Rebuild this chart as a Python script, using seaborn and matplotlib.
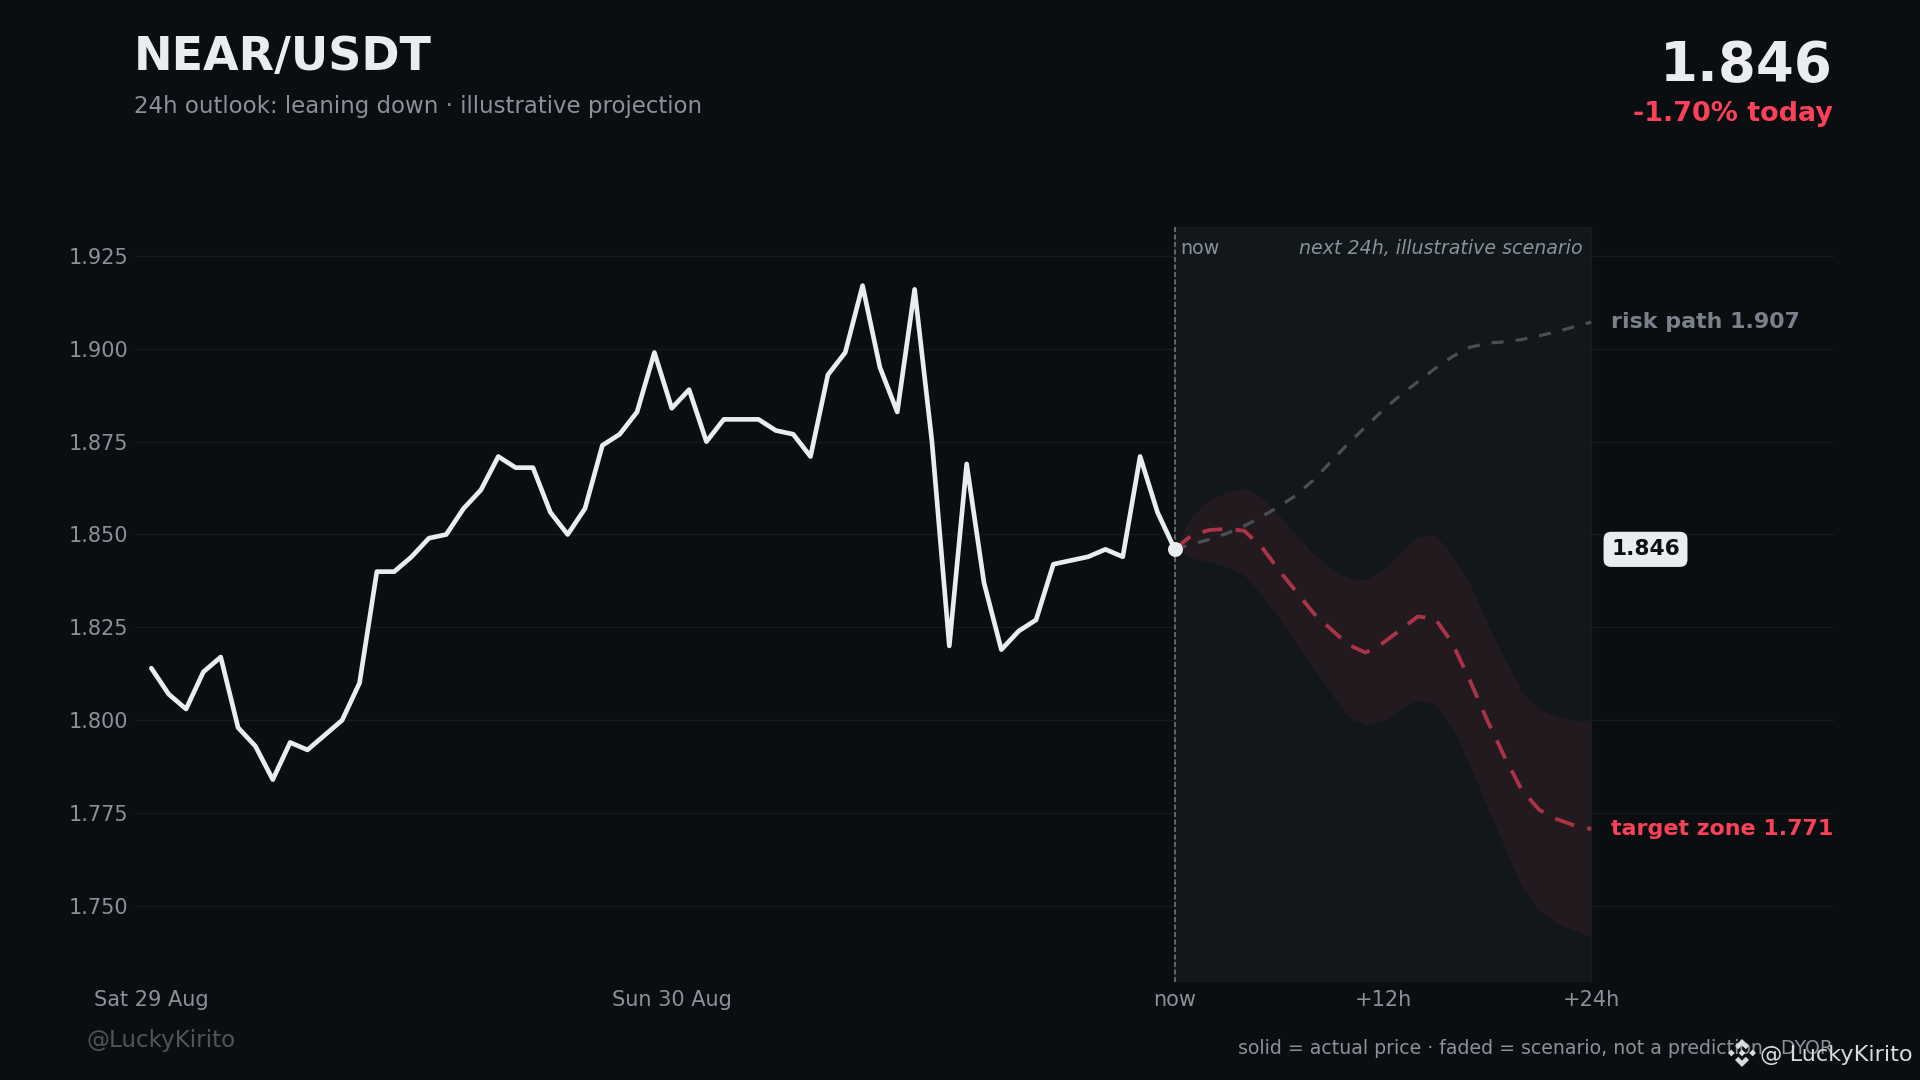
import numpy as np
import pandas as pd
import matplotlib
matplotlib.use("Agg")
import matplotlib.pyplot as plt
import seaborn as sns
from matplotlib.patches import Polygon

# hourly closes, oldest first, last one is "now"
history_prices = [
    1.814, 1.807, 1.803, 1.813, 1.817, 1.798, 1.793, 1.784, 1.794, 1.792,
    1.796, 1.800, 1.810, 1.840, 1.840, 1.844, 1.849, 1.850, 1.857, 1.862,
    1.871, 1.868, 1.868, 1.856, 1.850, 1.857, 1.874, 1.877, 1.883, 1.899,
    1.884, 1.889, 1.875, 1.881, 1.881, 1.881, 1.878, 1.877, 1.871, 1.893,
    1.899, 1.917, 1.895, 1.883, 1.916, 1.875, 1.820, 1.869, 1.837, 1.819,
    1.824, 1.827, 1.842, 1.843, 1.844, 1.846, 1.844, 1.871, 1.856, 1.846,
]

# scenario paths, +0h to +24h
target_path = [
    1.846, 1.8499, 1.8512, 1.8515, 1.8510, 1.8467, 1.8404, 1.8346, 1.8288,
    1.8245, 1.8203, 1.8182, 1.8208, 1.8243, 1.8279, 1.8274, 1.8207, 1.8108,
    1.8001, 1.7902, 1.7812, 1.7759, 1.7734, 1.7717, 1.7707,
]
band_upper = [
    1.846, 1.8552, 1.8593, 1.8615, 1.8624, 1.8602, 1.8552, 1.8499, 1.8449,
    1.8409, 1.8382, 1.8378, 1.8406, 1.8454, 1.8494, 1.8499, 1.8445, 1.8369,
    1.8262, 1.8168, 1.8077, 1.8030, 1.8010, 1.7999, 1.7994,
]
band_lower = [
    1.846, 1.8436, 1.8427, 1.8413, 1.8391, 1.8337, 1.8275, 1.8208, 1.8141,
    1.8073, 1.8010, 1.7987, 1.7999, 1.8028, 1.8055, 1.8042, 1.7980, 1.7880,
    1.7767, 1.7660, 1.7552, 1.7489, 1.7453, 1.7435, 1.7417,
]
risk_path = [
    1.846, 1.8474, 1.8487, 1.8503, 1.8523, 1.8548, 1.8575, 1.8606, 1.8647,
    1.8696, 1.8745, 1.8790, 1.8835, 1.8875, 1.8911, 1.8947, 1.8979, 1.9004,
    1.9015, 1.9019, 1.9025, 1.9035, 1.9046, 1.9059, 1.9072,
]

y_ticks = [1.750, 1.775, 1.800, 1.825, 1.850, 1.875, 1.900, 1.925]
x_tick_hours = [-59, -29, 0, 12, 24]
x_tick_labels = ["Sat 29 Aug", "Sun 30 Aug", "now", "+12h", "+24h"]

BG = "#0b0e11"
SHADE = "#12171a"
BAND = "#231a1f"
GRID = "#151a20"
MUTED = "#8a919c"
RED = "#fb4158"
WHITE = "#eaecef"

sns.set_theme(style="dark", rc={
    "figure.facecolor": BG,
    "axes.facecolor": BG,
    "savefig.facecolor": BG,
    "axes.edgecolor": BG,
    "text.color": WHITE,
})
plt.rcParams["font.family"] = ["DejaVu Sans"]

history = pd.DataFrame({"hour": np.arange(-59, 1), "price": history_prices})
future = pd.DataFrame({
    "hour": np.arange(0, 25),
    "target": target_path,
    "upper": band_upper,
    "lower": band_lower,
    "risk": risk_path,
})

fig = plt.figure(figsize=(16, 9), dpi=120)
ax = fig.add_axes([134 / 1920, 1 - 982 / 1080, 1700 / 1920, 755 / 1080])

# forecast area and grid
ax.axvspan(0, 24, facecolor=SHADE, edgecolor="#191d22", linewidth=0.8, zorder=0)
for tick in y_ticks:
    ax.axhline(tick, color=GRID, linewidth=0.8, zorder=1)

ax.fill_between(future["hour"], future["lower"], future["upper"],
                color=BAND, linewidth=0, zorder=2)
sns.lineplot(data=future, x="hour", y="risk", ax=ax, color="#4a4f55",
             linewidth=1.9, linestyle=(0, (3.8, 3.8)), zorder=3)
sns.lineplot(data=future, x="hour", y="target", ax=ax, color="#ab3348",
             linewidth=2.3, linestyle=(0, (5.22, 3.49)), zorder=4)
sns.lineplot(data=history, x="hour", y="price", ax=ax, color=WHITE,
             linewidth=2.8, zorder=5)
ax.axvline(0, color="#6f747b", linewidth=1, linestyle=(0, (3, 1.5)), zorder=4)
ax.scatter([0], history_prices[-1:], s=80, color=WHITE, linewidth=0, zorder=6)

ax.set_xlim(-60, 38)
ax.set_ylim(1.7295, 1.9328)
ax.set_xlabel("")
ax.set_ylabel("")
ax.set_xticks(x_tick_hours)
ax.set_xticklabels(x_tick_labels)
ax.set_yticks(y_ticks)
ax.set_yticklabels([f"{t:.3f}" for t in y_ticks])
ax.tick_params(axis="both", length=0, labelsize=12.5, labelcolor=MUTED)
ax.tick_params(axis="x", pad=5)
ax.tick_params(axis="y", pad=3.6)
for spine in ax.spines.values():
    spine.set_visible(False)

# labels inside and beside the forecast area
ax.annotate("now", (0, 1.9328), xytext=(3, -7.5), textcoords="offset points",
            fontsize=11.4, color=MUTED, va="top")
ax.annotate("next 24h, illustrative scenario", (24, 1.9328), xytext=(-5, -7.5),
            textcoords="offset points", fontsize=11.4, color=MUTED,
            style="italic", ha="right", va="top")
ax.annotate("risk path 1.907", (24, risk_path[-1]), xytext=(12, 0),
            textcoords="offset points", fontsize=13.3, fontweight="bold",
            color="#7a818b", va="center")
ax.annotate("target zone 1.771", (24, target_path[-1]), xytext=(12, 0),
            textcoords="offset points", fontsize=13.3, fontweight="bold",
            color=RED, va="center")
ax.annotate("1.846", (24, history_prices[-1]), xytext=(12, 0),
            textcoords="offset points", fontsize=13, fontweight="bold",
            color="#0b0e11", va="center",
            bbox=dict(boxstyle="round,pad=0.35", facecolor=WHITE, edgecolor="none"))

# header
fig.text(134 / 1920, 1 - 57.5 / 1080, "NEAR/USDT", fontsize=27.6, fontweight="bold",
         color=WHITE, va="center")
fig.text(134 / 1920, 1 - 107 / 1080, "24h outlook: leaning down · illustrative projection",
         fontsize=13.7, color=MUTED, va="center")
fig.text(1833 / 1920, 1 - 66.5 / 1080, "1.846", fontsize=32.8, fontweight="bold",
         color=WHITE, ha="right", va="center")
fig.text(1833 / 1920, 1 - 114 / 1080, "-1.70% today", fontsize=16.2, fontweight="bold",
         color=RED, ha="right", va="center")

# footer
fig.text(86 / 1920, 1 - 1040 / 1080, "@LuckyKirito", fontsize=13.8, color="#4e545b", va="center")
fig.text(1833 / 1920, 1 - 1048.5 / 1080,
         "solid = actual price · faded = scenario, not a prediction · DYOR",
         fontsize=11.35, color=MUTED, ha="right", va="center")

# watermark on top, logo built from small diamonds
logo_color = "#d8dadd"
cx, cy = 1742, 1053
size = 14
shapes = [
    [(0, -1), (0.5, -0.5), (0.27, -0.27), (0, -0.54), (-0.27, -0.27), (-0.5, -0.5)],
    [(0, 1), (0.5, 0.5), (0.27, 0.27), (0, 0.54), (-0.27, 0.27), (-0.5, 0.5)],
    [(0, -0.24), (0.24, 0), (0, 0.24), (-0.24, 0)],
    [(-0.76, -0.24), (-0.52, 0), (-0.76, 0.24), (-1, 0)],
    [(0.76, -0.24), (1, 0), (0.76, 0.24), (0.52, 0)],
]
for shape in shapes:
    pts = [((cx + px * size) / 1920, 1 - (cy + py * size) / 1080) for px, py in shape]
    fig.add_artist(Polygon(pts, closed=True, transform=fig.transFigure,
                           facecolor=logo_color, edgecolor="none", zorder=20))
fig.text(1760 / 1920, 1 - 1055 / 1080, "@ LuckyKirito", fontsize=13.4, color=logo_color,
         va="center", zorder=20)

fig.savefig("out.png", dpi=120)
